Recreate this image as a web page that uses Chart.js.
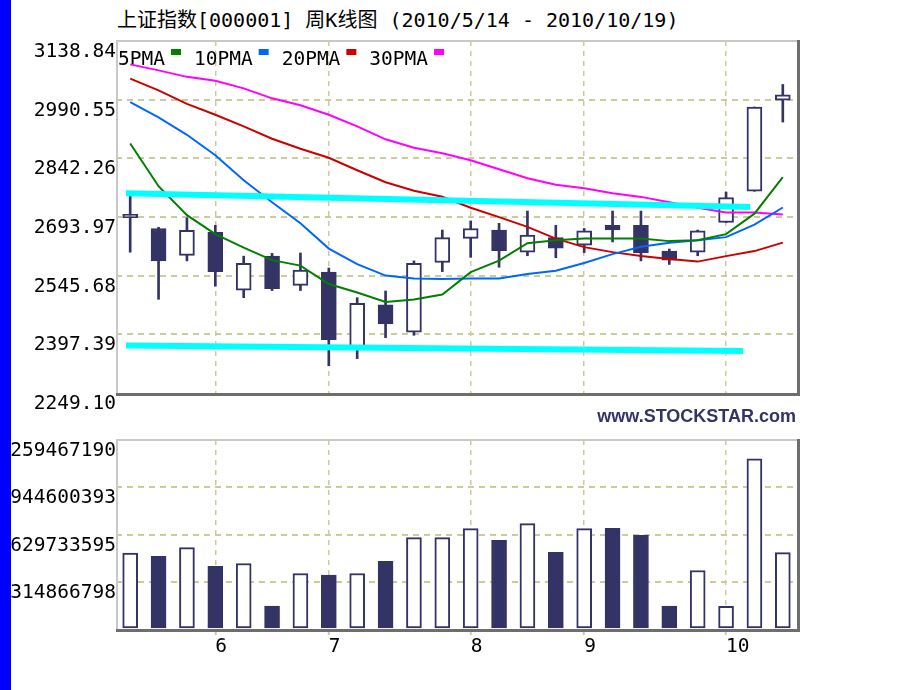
<!DOCTYPE html>
<html>
<head>
<meta charset="utf-8">
<script src="https://cdn.jsdelivr.net/npm/chart.js@4"></script>
<style>
  body { margin: 0; background: #fff; width: 920px; height: 690px; overflow: hidden; position: relative; }
  #side { position: absolute; left: 0; top: 0; width: 11px; height: 690px; background: #0000ff; z-index: 5; }
  #title { position: absolute; left: 117px; top: 8px; font: 20px/24px 'DejaVu Sans Mono', 'Noto Sans CJK SC', monospace; white-space: pre; color: #000; }
  #brand { position: absolute; right: 124px; top: 406px; font: bold 18px/20px 'Liberation Sans', Arial, sans-serif; color: #333366; }
  #main { position: absolute; left: 0; top: 0; }
  #vol { position: absolute; left: 0; top: 420px; }
</style>
</head>
<body>
<div id="side"></div>
<div id="title">上证指数[000001] 周K线图 (2010/5/14 - 2010/10/19)</div>
<canvas id="main" width="920" height="420"></canvas>
<div id="brand">www.STOCKSTAR.com</div>
<canvas id="vol" width="920" height="270"></canvas>
<script>
// weekly bars, 2010/5/14 .. 2010/10/19
const weeks = ['5/14', '5/21', '5/28', '6/4', '6/11', '6/18', '6/25', '7/2', '7/9', '7/16', '7/23', '7/30',
               '8/6', '8/13', '8/20', '8/27', '9/3', '9/10', '9/17', '9/21', '9/30', '10/8', '10/15', '10/19'];

const open  = [2692, 2665, 2597, 2655, 2509, 2595, 2521, 2555, 2358, 2472, 2403, 2579,
               2640, 2661, 2605, 2642, 2623, 2673, 2673, 2608, 2605, 2680, 2759, 2989];
const close = [2701, 2583, 2660, 2556, 2577, 2513, 2560, 2384, 2476, 2424, 2577, 2642,
               2665, 2609, 2648, 2615, 2659, 2661, 2604, 2585, 2659, 2743, 2972, 3003];
const high  = [2757, 2668, 2692, 2673, 2595, 2602, 2603, 2565, 2490, 2507, 2583, 2661,
               2684, 2678, 2709, 2673, 2665, 2709, 2709, 2613, 2661, 2757, 2972, 3029];
const low   = [2605, 2486, 2583, 2519, 2490, 2508, 2508, 2318, 2336, 2389, 2395, 2556,
               2592, 2567, 2596, 2591, 2604, 2631, 2583, 2574, 2596, 2680, 2759, 2934];

const ma5  = [2879.6, 2771.8, 2698.6, 2650.7, 2616.6, 2585.0, 2571.2, 2524.5, 2503.0, 2479.0, 2485.3, 2498.0,
              2554.7, 2583.8, 2627.9, 2635.5, 2639.8, 2639.8, 2639.8, 2633.0, 2635.5, 2650.7, 2702.4, 2794.5];
const ma10 = [2984.6, 2946.0, 2901.8, 2850.1, 2787.0, 2731.4, 2678.4, 2614.1, 2574.9, 2545.9, 2538.3, 2537.1,
              2538.8, 2538.8, 2549.7, 2558.0, 2577.5, 2600.2, 2618.6, 2628.7, 2635.5, 2643.1, 2674.6, 2718.0];
const ma20 = [3043.6, 3014.1, 2980.0, 2952.3, 2923.2, 2891.7, 2866.5, 2843.7, 2812.2, 2781.9, 2760.5, 2745.3,
              2717.5, 2693.6, 2669.1, 2639.3, 2617.8, 2605.2, 2595.1, 2587.6, 2581.2, 2595.1, 2607.8, 2629.2];
const ma30 = [3079.8, 3064.6, 3048.2, 3038.1, 3019.2, 2993.9, 2976.3, 2952.3, 2923.2, 2890.4, 2869.0, 2855.1,
              2837.4, 2814.7, 2792.0, 2775.6, 2766.8, 2754.1, 2744.8, 2731.4, 2717.5, 2705.4, 2705.4, 2700.4];

const volume = [506600000, 484700000, 542400000, 418300000, 436200000, 152700000, 369800000, 358500000,
                369800000, 451500000, 608800000, 608800000, 668500000, 590900000, 701700000, 511200000,
                668500000, 670500000, 624100000, 152700000, 389700000, 150700000, 1133300000, 509200000];

// hand-drawn trend lines: [week position, index value]
const trendUpper = [[-0.15, 2754], [21.85, 2719]];
const trendLower = [[-0.15, 2369], [21.6, 2355]];

const maNames = ['5PMA', '10PMA', '20PMA', '30PMA'];
const maSeries = [ma5, ma10, ma20, ma30];

const monthIdx = [3, 7, 12, 16, 21];
const monthLabels = ['6', '7', '8', '9', '10'];

const priceTicks = [2249.10, 2397.39, 2545.68, 2693.97, 2842.26, 2990.55, 3138.84];
const priceTickLabels = ['2249.10', '2397.39', '2545.68', '2693.97', '2842.26', '2990.55', '3138.84'];
const volTicks = [0, 314866797.5, 629733595, 944600392.5, 1259467190];
const volTickLabels = ['', '314866798', '629733595', '944600393', '1259467190'];

const navy = '#333366';
const gridColor = '#cccc99';
const maColors = ['#008000', '#0066ff', '#cc0000', '#ff00ff'];
const up = open.map((o, i) => close[i] >= o);

Chart.defaults.font.family = "'DejaVu Sans Mono', monospace";
Chart.defaults.font.size = 19.5;
Chart.defaults.color = '#000';

const frame = {
    id: 'frame',
    afterDatasetsDraw(chart) {
        const { ctx, chartArea: a } = chart;
        ctx.save();
        ctx.strokeStyle = '#c8c8c8';
        ctx.lineWidth = 2;
        ctx.beginPath();
        ctx.moveTo(a.left + 1, a.bottom);
        ctx.lineTo(a.left + 1, a.top);
        ctx.lineTo(a.right, a.top);
        ctx.stroke();
        ctx.strokeStyle = '#6e6e6e';
        ctx.lineWidth = 3;
        ctx.beginPath();
        ctx.moveTo(a.left, a.bottom + 1.5);
        ctx.lineTo(a.right + 1.5, a.bottom + 1.5);
        ctx.lineTo(a.right + 1.5, a.top - 1);
        ctx.stroke();
        ctx.restore();
    }
};

const maLegend = {
    id: 'maLegend',
    beforeDatasetsDraw(chart) {
        const { ctx, chartArea: a } = chart;
        ctx.save();
        ctx.font = "19.5px 'DejaVu Sans Mono'";
        let x = a.left + 2;
        maNames.forEach((name, k) => {
            ctx.fillStyle = '#000';
            ctx.fillText(name, x, a.top + 24);
            x += ctx.measureText(name).width + 6;
            ctx.fillStyle = maColors[k];
            ctx.fillRect(x, a.top + 8, 10, 6);
            x += 10 + 13;
        });
        ctx.restore();
    }
};

const xAxis = (showLabels) => ({
    type: 'linear',
    min: -0.5,
    max: 23.5,
    offset: false,
    afterBuildTicks: s => { s.ticks = monthIdx.map(v => ({ value: v })); },
    afterFit: s => { s.height = showLabels ? 40 : 0; },
    ticks: {
        display: showLabels,
        callback: (v, i) => monthLabels[i],
        align: 'start',
        padding: 0,
        maxRotation: 0,
        autoSkip: false
    },
    grid: { offset: false, color: gridColor, lineWidth: 1.5, drawTicks: showLabels, tickLength: 6, tickColor: gridColor, tickWidth: 2 },
    border: { display: false, dash: [5, 5] }
});

const yAxis = (tickValues, tickLabels) => ({
    min: tickValues[0],
    max: tickValues[tickValues.length - 1],
    afterBuildTicks: s => { s.ticks = tickValues.map(v => ({ value: v })); },
    afterFit: s => { s.width = 116; },
    ticks: { callback: (v, i) => tickLabels[i], padding: 0, labelOffset: 11, autoSkip: false },
    grid: {
        color: c => (c.index === 0 || c.index === tickValues.length - 1) ? 'rgba(0,0,0,0)' : gridColor,
        lineWidth: 2,
        drawTicks: false
    },
    border: { display: false, dash: [6, 5] }
});

const trendSet = pts => ({
    type: 'line',
    data: pts.map(([x, y]) => ({ x, y })),
    borderColor: '#00ffff',
    borderWidth: 6,
    borderCapStyle: 'butt',
    pointRadius: 0
});

new Chart(document.getElementById('main'), {
    type: 'bar',
    data: {
        datasets: [
            trendSet(trendUpper),
            trendSet(trendLower),
            ...maNames.map((name, k) => ({
                type: 'line',
                label: name,
                data: maSeries[k].map((y, i) => ({ x: i, y })),
                borderColor: maColors[k],
                borderWidth: 2,
                pointRadius: 0,
                tension: 0
            })),
            {
                label: 'body',
                data: open.map((o, i) => ({ x: i, y: [o, close[i]] })),
                backgroundColor: up.map(u => u ? '#ffffff' : navy),
                borderColor: navy,
                borderWidth: 2,
                borderSkipped: false,
                barThickness: 15,
                grouped: false
            },
            {
                label: 'wick',
                data: low.map((l, i) => ({ x: i, y: [l, high[i]] })),
                backgroundColor: navy,
                borderWidth: 0,
                barThickness: 2,
                grouped: false
            }
        ]
    },
    options: {
        responsive: false,
        animation: false,
        events: [],
        layout: { padding: { left: 0, right: 123, top: 41, bottom: 27 } },
        plugins: { legend: { display: false }, tooltip: { enabled: false } },
        scales: {
            x: xAxis(false),
            y: yAxis(priceTicks, priceTickLabels)
        }
    },
    plugins: [maLegend, frame]
});

new Chart(document.getElementById('vol'), {
    type: 'bar',
    data: {
        datasets: [{
            label: 'volume',
            data: volume.map((v, i) => ({ x: i, y: v })),
            backgroundColor: up.map(u => u ? '#ffffff' : navy),
            borderColor: navy,
            borderWidth: 2,
            borderSkipped: false,
            barThickness: 15,
            grouped: false
        }]
    },
    options: {
        responsive: false,
        animation: false,
        events: [],
        layout: { padding: { left: 0, right: 123, top: 20, bottom: 21 } },
        plugins: { legend: { display: false }, tooltip: { enabled: false } },
        scales: {
            x: xAxis(true),
            y: yAxis(volTicks, volTickLabels)
        }
    },
    plugins: [frame]
});
</script>
</body>
</html>
